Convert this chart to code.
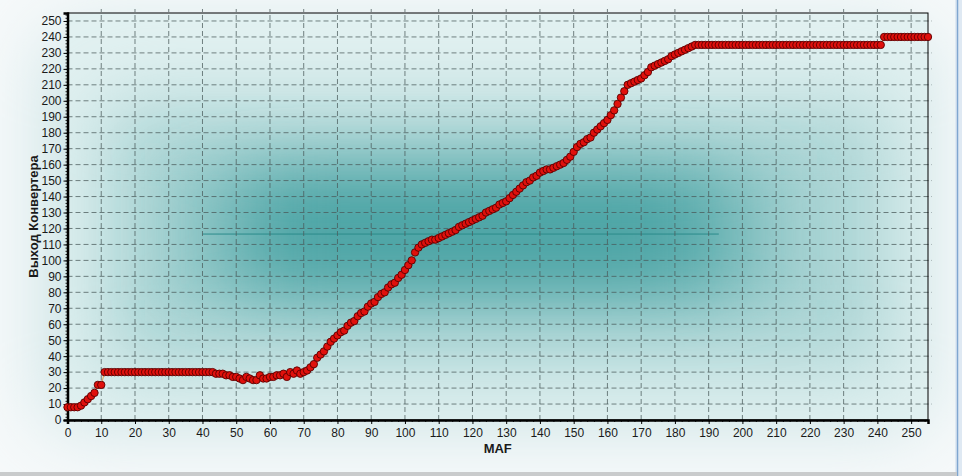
<!DOCTYPE html>
<html>
<head>
<meta charset="utf-8">
<script src="https://cdn.jsdelivr.net/npm/d3@7"></script>
<style>
  body { margin: 0; background: #f4f8f9; }
  svg { display: block; }
</style>
</head>
<body>
<div id="chart"></div>
<script>
// converter output for every MAF step (index = MAF value)
let converterOutput = [
  8, 8, 8, 8, 9, 11, 13, 15, 17, 22, 22, 30, 30, 30, 30, 30,
  30, 30, 30, 30, 30, 30, 30, 30, 30, 30, 30, 30, 30, 30, 30, 30,
  30, 30, 30, 30, 30, 30, 30, 30, 30, 30, 30, 30, 29, 29, 29, 28,
  28, 27, 27, 26, 25, 27, 26, 25, 25, 28, 26, 26, 27, 27, 28, 28,
  29, 27, 30, 29, 31, 29, 30, 31, 33, 35, 39, 41, 43, 46, 49, 51,
  53, 55, 56, 59, 61, 62, 65, 67, 68, 71, 73, 74, 77, 79, 80, 83,
  85, 86, 89, 91, 94, 97, 100, 105, 108, 110, 111, 112, 113, 113, 114, 115,
  116, 117, 118, 119, 121, 122, 123, 124, 125, 126, 127, 128, 130, 131, 132, 133,
  135, 136, 137, 139, 141, 143, 145, 147, 149, 150, 152, 153, 155, 156, 157, 157,
  158, 159, 160, 161, 163, 165, 168, 171, 173, 174, 176, 177, 180, 182, 184, 186,
  188, 191, 194, 198, 202, 206, 210, 211, 212, 213, 214, 216, 218, 221, 222, 223,
  224, 225, 226, 228, 229, 230, 231, 232, 233, 234, 235, 235, 235, 235, 235, 235,
  235, 235, 235, 235, 235, 235, 235, 235, 235, 235, 235, 235, 235, 235, 235, 235,
  235, 235, 235, 235, 235, 235, 235, 235, 235, 235, 235, 235, 235, 235, 235, 235,
  235, 235, 235, 235, 235, 235, 235, 235, 235, 235, 235, 235, 235, 235, 235, 235,
  235, 235, 240, 240, 240, 240, 240, 240, 240, 240, 240, 240, 240, 240, 240, 240
]

let xTicks = [0, 10, 20, 30, 40, 50, 60, 70, 80, 90, 100, 110, 120, 130, 140, 150, 160, 170, 180, 190, 200, 210, 220, 230, 240, 250]
let yTicks = [0, 10, 20, 30, 40, 50, 60, 70, 80, 90, 100, 110, 120, 130, 140, 150, 160, 170, 180, 190, 200, 210, 220, 230, 240, 250]

let xTitle = 'MAF'
let yTitle = 'Выход Конвертера'

let width = 962
let height = 476
let margin = { top: 13, left: 67.5, right: 34, bottom: 56 }

let datapoints = converterOutput.map((d, i) => ({ maf: i, value: d }))

let svg = d3
  .select('#chart')
  .append('svg')
  .attr('width', width)
  .attr('height', height)

let defs = svg.append('defs')

defs
  .append('filter')
  .attr('id', 'soft')
  .attr('x', '-50%')
  .attr('y', '-50%')
  .attr('width', '200%')
  .attr('height', '200%')
  .append('feGaussianBlur')
  .attr('stdDeviation', '55 32')

defs
  .append('filter')
  .attr('id', 'softer')
  .attr('x', '-50%')
  .attr('y', '-50%')
  .attr('width', '200%')
  .attr('height', '200%')
  .append('feGaussianBlur')
  .attr('stdDeviation', 40)

let x = d3
  .scaleLinear()
  .domain([0, 255])
  .range([margin.left, width - margin.right])

let y = d3
  .scaleLinear()
  .domain([0, 255])
  .range([height - margin.bottom, margin.top])

let plotW = x(255) - x(0)
let plotH = y(0) - y(255)

defs
  .append('clipPath')
  .attr('id', 'plot-clip')
  .append('rect')
  .attr('x', x(0))
  .attr('y', y(255))
  .attr('width', plotW)
  .attr('height', plotH)

// outer panel glow
svg
  .append('rect')
  .attr('x', 0)
  .attr('y', 0)
  .attr('width', width)
  .attr('height', height)
  .attr('fill', '#f6f9fa')

svg
  .append('rect')
  .attr('x', 50)
  .attr('y', 40)
  .attr('width', 870)
  .attr('height', 380)
  .attr('fill', '#c4e0e1')
  .attr('filter', 'url(#softer)')

// plot background
let bg = svg.append('g').attr('clip-path', 'url(#plot-clip)')

bg.append('rect')
  .attr('x', x(0))
  .attr('y', y(255))
  .attr('width', plotW)
  .attr('height', plotH)
  .attr('fill', '#e2f1f1')

bg.append('rect')
  .attr('x', x(10))
  .attr('y', y(200))
  .attr('width', x(245) - x(10))
  .attr('height', y(30) - y(200))
  .attr('fill', '#acd5d5')
  .attr('filter', 'url(#softer)')

bg.append('rect')
  .attr('x', x(45))
  .attr('y', y(160))
  .attr('width', x(200) - x(45))
  .attr('height', y(75) - y(160))
  .attr('fill', '#4ea5a6')
  .attr('filter', 'url(#soft)')

bg.append('line')
  .attr('x1', x(40))
  .attr('x2', x(193))
  .attr('y1', y(116.5))
  .attr('y2', y(116.5))
  .attr('stroke', '#2a8a8a')
  .attr('stroke-width', 1)

// grid
svg
  .selectAll('.grid-v')
  .data(xTicks.filter(d => d > 0))
  .enter()
  .append('line')
  .attr('x1', d => x(d))
  .attr('x2', d => x(d))
  .attr('y1', y(0))
  .attr('y2', y(255) - 4)
  .attr('stroke', '#4a5a5a')
  .attr('stroke-width', 1)
  .attr('stroke-dasharray', '5,3')
  .attr('opacity', 0.75)

svg
  .selectAll('.grid-h')
  .data(yTicks.filter(d => d > 0))
  .enter()
  .append('line')
  .attr('x1', x(0))
  .attr('x2', x(255) + 4)
  .attr('y1', d => y(d))
  .attr('y2', d => y(d))
  .attr('stroke', '#4a5a5a')
  .attr('stroke-width', 1)
  .attr('stroke-dasharray', '5,3')
  .attr('opacity', 0.75)

// frame
svg
  .append('rect')
  .attr('x', x(0))
  .attr('y', y(255))
  .attr('width', plotW)
  .attr('height', plotH)
  .attr('fill', 'none')
  .attr('stroke', '#000')
  .attr('stroke-width', 1)

// axes
let xAxis = d3
  .axisBottom(x)
  .tickValues(xTicks)
  .tickSize(4)
  .tickPadding(4)

let yAxis = d3
  .axisLeft(y)
  .tickValues(yTicks)
  .tickSize(4)
  .tickPadding(2)

let xMinor = d3
  .axisBottom(x)
  .tickValues(d3.range(0, 256, 2))
  .tickSize(2)
  .tickFormat('')

let yMinor = d3
  .axisLeft(y)
  .tickValues(d3.range(0, 256, 2))
  .tickSize(2)
  .tickFormat('')

svg
  .append('g')
  .attr('transform', `translate(0,${y(0)})`)
  .call(xMinor)
  .call(g => g.select('.domain').remove())
  .selectAll('line')
  .attr('stroke', '#222')

svg
  .append('g')
  .attr('transform', `translate(${x(0)},0)`)
  .call(yMinor)
  .call(g => g.select('.domain').remove())
  .selectAll('line')
  .attr('stroke', '#222')

let gx = svg
  .append('g')
  .attr('transform', `translate(0,${y(0)})`)
  .call(xAxis)

let gy = svg
  .append('g')
  .attr('transform', `translate(${x(0)},0)`)
  .call(yAxis)

gx.select('.domain').attr('stroke', '#000').attr('stroke-width', 2.5)
gy.select('.domain').attr('stroke', '#000').attr('stroke-width', 2.5)

gx.selectAll('text')
  .attr('font-family', 'Liberation Sans, Arial, sans-serif')
  .attr('font-size', 12)
  .attr('fill', '#1a1a1a')

gy.selectAll('text')
  .attr('font-family', 'Liberation Sans, Arial, sans-serif')
  .attr('font-size', 12)
  .attr('fill', '#1a1a1a')

svg
  .append('text')
  .text(xTitle)
  .attr('x', (x(0) + x(255)) / 2)
  .attr('y', 453)
  .attr('text-anchor', 'middle')
  .attr('font-family', 'Liberation Sans, Arial, sans-serif')
  .attr('font-size', 13)
  .attr('font-weight', 'bold')
  .attr('fill', '#1a1a1a')

svg
  .append('text')
  .text(yTitle)
  .attr('transform', `translate(38,${(y(0) + y(255)) / 2}) rotate(-90)`)
  .attr('text-anchor', 'middle')
  .attr('font-family', 'Liberation Sans, Arial, sans-serif')
  .attr('font-size', 13)
  .attr('font-weight', 'bold')
  .attr('fill', '#1a1a1a')

// series
let line = d3
  .line()
  .x(d => x(d.maf))
  .y(d => y(d.value))

let series = svg.append('g')

series
  .append('path')
  .datum(datapoints)
  .attr('d', line)
  .attr('fill', 'none')
  .attr('stroke', '#e0a050')
  .attr('stroke-width', 1)

series
  .selectAll('.point')
  .data(datapoints)
  .enter()
  .append('circle')
  .attr('cx', d => x(d.maf))
  .attr('cy', d => y(d.value))
  .attr('r', 3.7)
  .attr('fill', '#e0100c')
  .attr('stroke', '#5a0000')
  .attr('stroke-width', 0.9)

// window edges
svg
  .append('rect')
  .attr('x', 955)
  .attr('y', 0)
  .attr('width', 7)
  .attr('height', height)
  .attr('fill', '#dfe9f3')

svg
  .append('line')
  .attr('x1', 957.5)
  .attr('x2', 957.5)
  .attr('y1', 0)
  .attr('y2', height)
  .attr('stroke', '#7fa6d0')
  .attr('stroke-width', 1.5)

svg
  .append('rect')
  .attr('x', 0)
  .attr('y', 472)
  .attr('width', 957)
  .attr('height', 4)
  .attr('fill', '#c9cbcc')
</script>
</body>
</html>
